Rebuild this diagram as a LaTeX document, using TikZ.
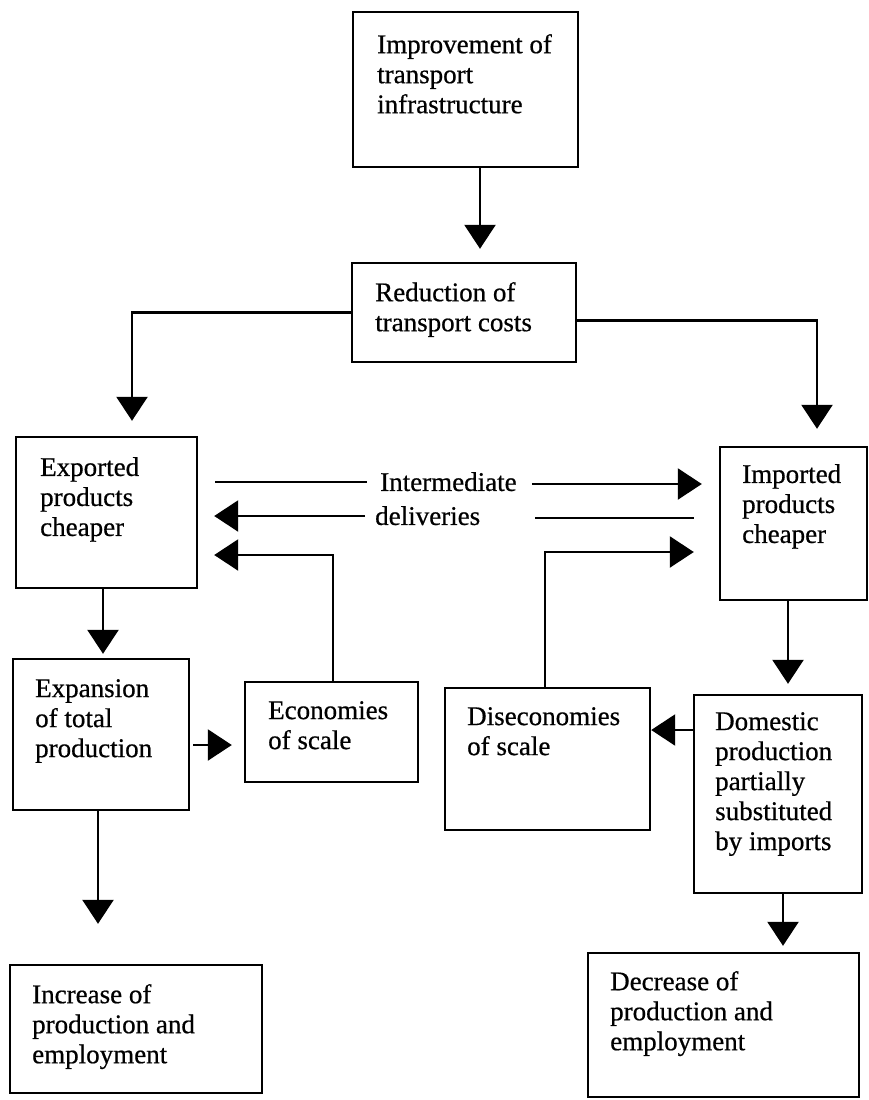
\documentclass[tikz,border=0pt]{standalone}
\usepackage{fontspec}
\setmainfont{Liberation Serif}
\usetikzlibrary{arrows.meta,fit}
\begin{document}
\begin{tikzpicture}[x=1pt,y=-1pt,
  box/.style={draw, line width=2.4pt, inner sep=0pt},
  txt/.style={anchor=north west, inner sep=0pt, align=left, font=\fontsize{27}{30}\selectfont\addfontfeatures{FakeBold=0.6}},
  conn/.style={line width=2.4pt},
  arr/.style={conn, -{Triangle[length=24pt,width=31pt]}}]
\useasboundingbox (0,0) rectangle (869,1100);
% boxes
\node[box, fit={(353,12) (578,167)}] (b1) {};
\node[box, fit={(352,263) (576,362)}] (b2) {};
\node[box, fit={(16,437) (197,588)}] (b3) {};
\node[box, fit={(720,447) (867,600)}] (b4) {};
\node[box, fit={(13,659) (189,810)}] (b5) {};
\node[box, fit={(245,682) (418,782)}] (b6) {};
\node[box, fit={(10,965) (262,1093)}] (b7) {};
\node[box, fit={(445,688) (650,830)}] (b8) {};
\node[box, fit={(694,695) (862,893)}] (b9) {};
\node[box, fit={(588,953) (859,1097)}] (b10) {};
% texts
\node[txt] (t1) at (377,34) {Improvement of\\transport\\infrastructure};
\node[txt] (t2) at (375,282) {Reduction of\\transport costs};
\node[txt] (t3) at (40,457) {Exported\\products\\cheaper};
\node[txt] (t4) at (742,464) {Imported\\products\\cheaper};
\node[txt] (t5) at (35,679) {Expansion\\of total\\production};
\node[txt] (t6) at (268,701) {Economies\\of scale};
\node[txt] (t7) at (32,984) {Increase of\\production and\\employment};
\node[txt] (t8) at (467,707) {Diseconomies\\of scale};
\node[txt] (t9) at (715,712) {Domestic\\production\\partially\\substituted\\by imports};
\node[txt] (t10) at (610,971) {Decrease of\\production and\\employment};
\node[txt] (inter) at (380,472) {Intermediate};
\node[txt] (deliv) at (375,506) {deliveries};
\coordinate (d1) at (535,518);
% connectors
\draw[arr, shorten >=13pt] (480,0 |- b1.south) -- (480,0 |- b2.north);
\draw[arr, shorten >=15pt] (b2.west) -| (132,0 |- b3.north);
\draw[arr, shorten >=17pt] ([yshift=-8pt]b2.east) -| (817,0 |- b4.north);
\draw[arr, shorten >=4pt] (103,0 |- b3.south) -- (103,0 |- b5.north);
\draw[arr, shorten <=3pt, shorten >=12pt] (b5.east |- 0,745) -- (b6.west |- 0,745);
\draw[arr, shorten >=16pt] (333,0 |- b6.north) |- (b3.east |- 0,555);
\draw[arr, shorten >=40pt] (98,0 |- b5.south) -- (98,0 |- b7.north);
\draw[arr, shorten >=10pt] (788,0 |- b4.south) -- (788,0 |- b9.north);
\draw[arr] (b9.west |- 0,730) -- (b8.east |- 0,730);
\draw[arr, shorten >=25pt] (545,0 |- b8.north) |- (b4.west |- 0,552);
\draw[arr, shorten >=6pt] (783,0 |- b9.south) -- (783,0 |- b10.north);
\draw[conn, shorten <=17pt, shorten >=13pt] (b3.east |- 0,482) -- (inter.west |- 0,482);
\draw[arr, shorten <=15pt, shorten >=17pt] (inter.east |- 0,484) -- (b4.west |- 0,484);
\draw[conn, shorten <=25pt] (b4.west |- 0,518) -- (d1);
\draw[arr, shorten <=10pt, shorten >=16pt] (deliv.west |- 0,516) -- (b3.east |- 0,516);
\end{tikzpicture}
\end{document}
